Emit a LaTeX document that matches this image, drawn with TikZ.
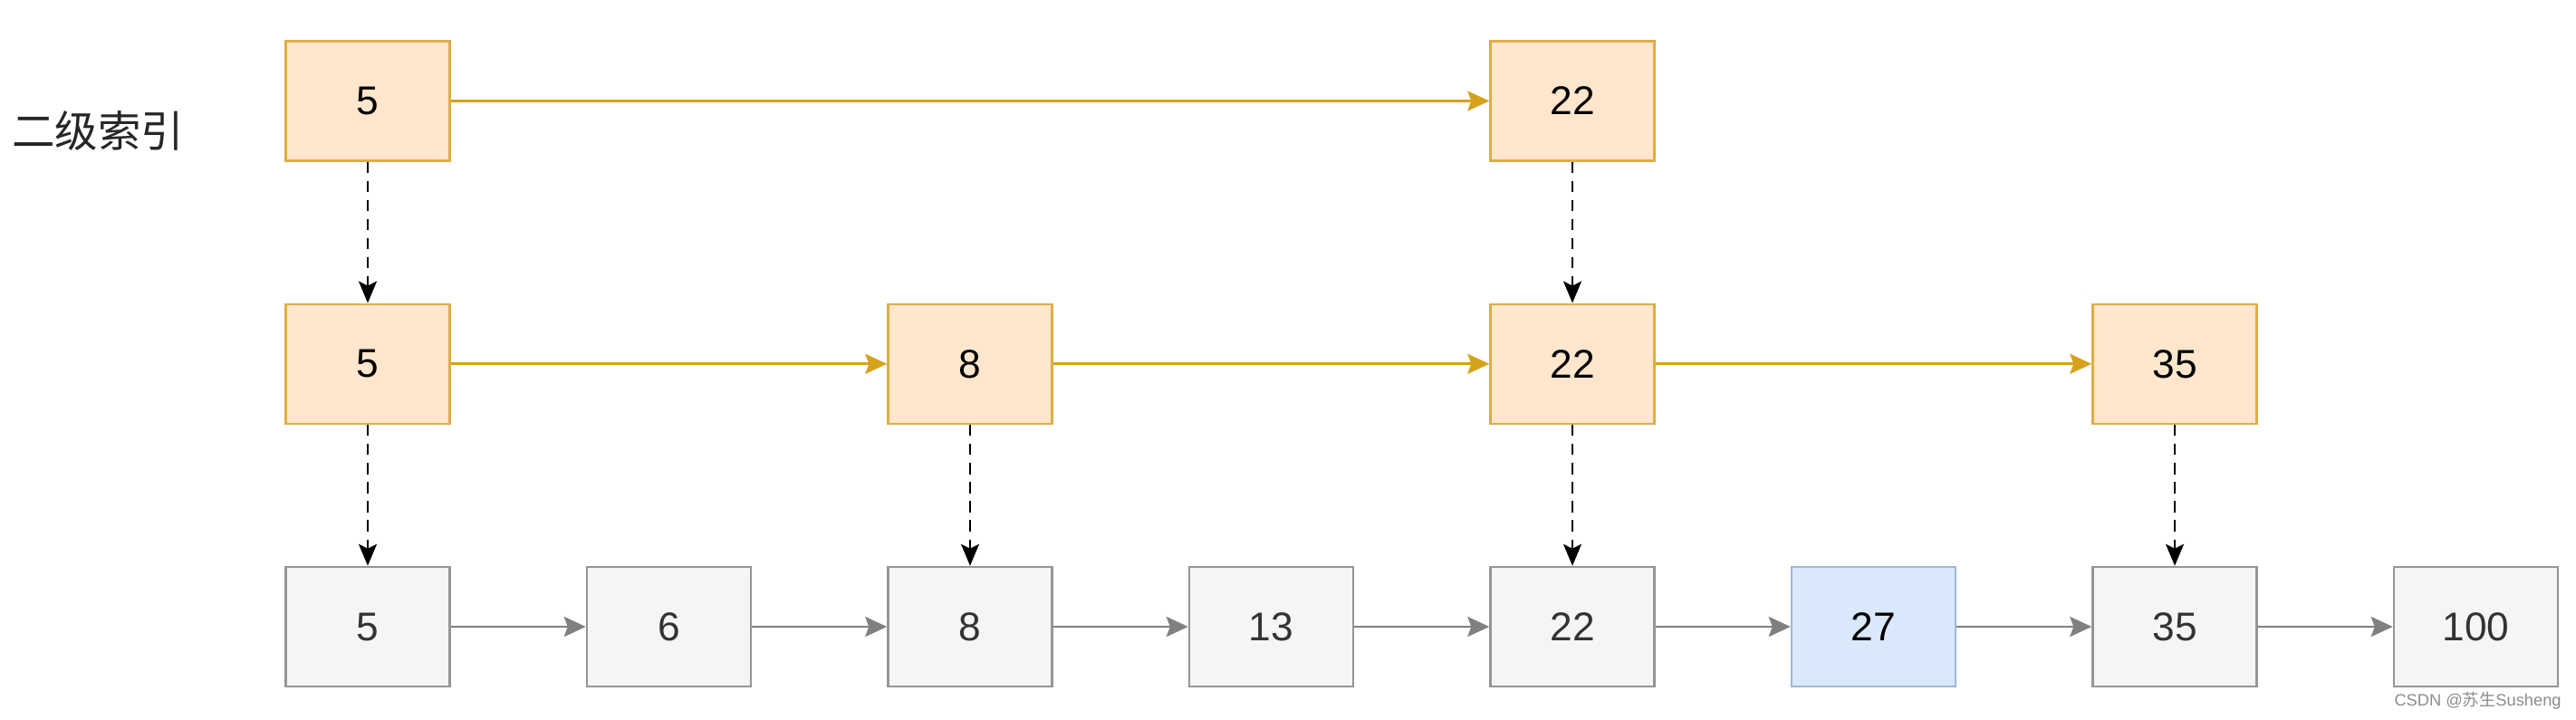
\documentclass[tikz,border=0pt]{standalone}
\usepackage{fontspec}
\setmainfont{Liberation Sans}
\newfontfamily\cjkfont{Noto Sans CJK SC}
\usetikzlibrary{arrows.meta}
\definecolor{idxfill}{HTML}{FFE6CC}
\definecolor{idxline}{HTML}{DDAE48}
\definecolor{idxarrow}{HTML}{D6A21C}
\definecolor{datafill}{HTML}{F5F5F5}
\definecolor{dataline}{HTML}{959595}
\definecolor{dataarrow}{HTML}{808080}
\definecolor{datatext}{HTML}{333333}
\definecolor{hitfill}{HTML}{DAE8FC}
\definecolor{hitline}{HTML}{9FB6D8}

\begin{document}
\begin{tikzpicture}[
  cell/.style={draw,minimum width=1.81cm,minimum height=1.32cm,inner sep=0pt,
    line width=0.7pt,font=\fontsize{12.6}{14}\selectfont},
  idxcell/.style={cell,draw=idxline,fill=idxfill,text=black},
  datacell/.style={cell,draw=dataline,fill=datafill,text=datatext},
  hitcell/.style={cell,draw=hitline,fill=hitfill,text=black},
  idxlink/.style={draw=idxarrow,line width=0.8pt,
    -{Stealth[length=0.24cm,width=0.22cm,inset=0.04cm]}},
  datalink/.style={draw=dataarrow,line width=0.8pt,
    -{Stealth[length=0.24cm,width=0.22cm,inset=0.04cm]}},
  downlink/.style={black,line width=0.6pt,dash pattern=on 3.5pt off 2.5pt,
    -{Stealth[length=0.24cm,width=0.2cm,inset=0.05cm]}}]
\useasboundingbox (0,0) rectangle (28.44,7.94);

% level label
\node[anchor=west,font=\cjkfont\fontsize{13.5}{16}\selectfont,text=black!85]
  (lvl) at (0.01,6.49) {二级索引};

% top index
\node[idxcell] (t0) at (4.06,6.825) {5};
\node[idxcell] (t4) at (4.06+3.325*4,6.825) {22};

% first index
\foreach \v/\c in {5/0,8/2,22/4,35/6}
  \node[idxcell] (m\c) at (4.06+3.325*\c,3.922) {\v};

% data list
\foreach \v/\s [count=\i from 0] in
    {5/datacell,6/datacell,8/datacell,13/datacell,22/datacell,27/hitcell,35/datacell,100/datacell}
  \node[\s] (b\i) at (4.06+3.325*\i,1.02) {\v};

\draw[idxlink] (t0) -- (t4);
\draw[idxlink] (m0) -- (m2);
\draw[idxlink] (m2) -- (m4);
\draw[idxlink] (m4) -- (m6);
\foreach \i [remember=\i as \last (initially 0)] in {1,...,7}
  \draw[datalink] (b\last) -- (b\i);

\draw[downlink] (t0) -- (m0);
\draw[downlink] (t4) -- (m4);
\foreach \c in {0,2,4,6}
  \draw[downlink] (m\c) -- (b\c);

\node[anchor=east,font=\fontsize{5.2}{6}\selectfont,text=black!45]
  (mark) at (28.40,0.2) {CSDN @{\cjkfont 苏生}Susheng};
\end{tikzpicture}
\end{document}
